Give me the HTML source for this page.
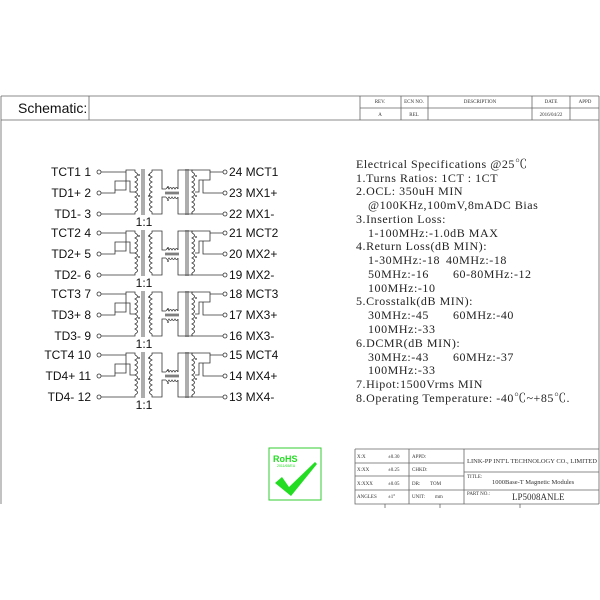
<!DOCTYPE html>
<html><head><meta charset="utf-8"><style>
body{margin:0;background:#fff;width:600px;height:600px;overflow:hidden}
svg{display:block}
.l{font-family:"Liberation Sans",sans-serif;font-size:12px;fill:#111}
.s{font-family:"Liberation Serif","Noto Serif CJK SC",serif;font-size:12px;fill:#222;letter-spacing:0.55px}
.t{font-family:"Liberation Serif",serif;font-size:5px;fill:#333}
</style></head><body>
<svg width="600" height="600" viewBox="0 0 600 600" xmlns="http://www.w3.org/2000/svg">
<defs>
<g id="ch" fill="none" stroke="#333" stroke-width="0.8">
 <circle cx="99" cy="0" r="2"/><circle cx="99" cy="21" r="2"/><circle cx="99" cy="42" r="2"/>
 <circle cx="225" cy="0" r="2"/><circle cx="225" cy="21" r="2"/><circle cx="225" cy="42" r="2"/>
 <path d="M101,0H126V18H115M101,21H115V9H130V20H135M101,42H135V40M126,0V-2H135V0"/>
 <path d="M135,0q5,2.5 0,5q5,2.5 0,5q5,2.5 0,5q5,2.5 0,5q5,2.5 0,5q5,2.5 0,5q5,2.5 0,5q5,2.5 0,5"/>
 <path d="M142,-3V43M144,-3V43"/>
 <path d="M152,0q-5,2.5 0,5q-5,2.5 0,5q-5,2.5 0,5q-5,2.5 0,5q-5,2.5 0,5q-5,2.5 0,5q-5,2.5 0,5q-5,2.5 0,5"/>
 <path d="M152,0V-2H162V17H166M152,40V42H162V25H166"/>
 <path d="M166,17q1.5,-3 3,0q1.5,-3 3,0q1.5,-3 3,0q1.5,-3 3,0M166,25q1.5,3 3,0q1.5,3 3,0q1.5,3 3,0q1.5,3 3,0M165,20.2H179M165,21.8H179"/>
 <path d="M178,17V-2H192V0M178,25V42H192V40"/>
 <path d="M186,-3V43M188,-3V43"/>
 <path d="M192,0q5,2.5 0,5q5,2.5 0,5q5,2.5 0,5q5,2.5 0,5q5,2.5 0,5q5,2.5 0,5q5,2.5 0,5q5,2.5 0,5"/>
 <path d="M192,0V-2H210V0H223M210,0V8H199V20H195M192,40V42H223M199,8H203V21H223"/>
</g>
<g id="dots" fill="#333"><circle cx="139" cy="3" r="0.9"/><circle cx="139" cy="24" r="0.9"/><circle cx="149" cy="3" r="0.9"/><circle cx="149" cy="24" r="0.9"/><circle cx="168" cy="15" r="0.9"/><circle cx="168" cy="28" r="0.9"/><circle cx="196" cy="4" r="0.9"/><circle cx="196" cy="24" r="0.9"/></g>
</defs>
<g fill="none" stroke="#666" stroke-width="0.8">
<path d="M1,96H599M1,96V504M599,96V504M1,120H599M89,96V120"/>
<path d="M360,96V120M401,96V120M428,96V120M532,96V120M570,96V120M360,108H599"/>
<path d="M355,449H599M355,449V504H599M355,463H464M355,476H464M355,490H599M464,472H599M409,449V504M464,449V504M385,504V508M440,504V508M520,504V508"/>
</g>
<text x="18" y="113" font-family="Liberation Sans,sans-serif" font-size="14" fill="#111">Schematic:</text>
<g class="t" text-anchor="middle"><text x="380" y="103">REV.</text><text x="414" y="103">ECN NO.</text><text x="480" y="103">DESCRIPTION</text><text x="551" y="103">DATE</text><text x="585" y="103">APPD</text>
<text x="380" y="116">A</text><text x="414" y="116">REL</text><text x="551" y="116">2016/04/22</text></g>
<g class="t"><text x="357" y="458">X:X</text><text x="388" y="458">±0.30</text><text x="412" y="458">APPD:</text>
<text x="357" y="471">X:XX</text><text x="388" y="471">±0.25</text><text x="412" y="471">CHKD:</text>
<text x="357" y="485">X:XXX</text><text x="388" y="485">±0.05</text><text x="412" y="485">DR:</text><text x="430" y="485">TOM</text>
<text x="357" y="498">ANGLES</text><text x="388" y="498">±1°</text><text x="412" y="498">UNIT:</text><text x="435" y="498">mm</text>
<text x="467" y="478">TITLE:</text><text x="467" y="495">PART NO.:</text></g>
<text x="467" y="463" font-family="Liberation Serif,serif" font-size="6.5" fill="#333">LINK-PP INT'L TECHNOLOGY CO., LIMITED</text>
<text x="492" y="484" font-family="Liberation Serif,serif" font-size="6.5" fill="#333">1000Base-T Magnetic Modules</text>
<text x="512" y="500" font-family="Liberation Serif,serif" font-size="9" fill="#333">LP5008ANLE</text>
<rect x="269" y="448" width="52" height="52" fill="#fff" stroke="#3c3" stroke-width="1"/>
<text x="273" y="462" font-family="Liberation Sans,sans-serif" font-weight="bold" font-size="9" fill="#2d2">RoHS</text>
<text x="277" y="467" font-family="Liberation Sans,sans-serif" font-size="3.5" fill="#2d2">2011/65/EU</text>
<path d="M275,483L282,477L289,487L315,462L317,464L291,496Z" fill="#2d2"/>
<use href="#ch" transform="translate(0,172)"/><use href="#dots" transform="translate(0,172)"/>
<use href="#ch" transform="translate(0,233)"/><use href="#dots" transform="translate(0,233)"/>
<use href="#ch" transform="translate(0,294)"/><use href="#dots" transform="translate(0,294)"/>
<use href="#ch" transform="translate(0,355)"/><use href="#dots" transform="translate(0,355)"/>
<g class="l" text-anchor="end">
<text x="91" y="176">TCT1  1</text><text x="91" y="197">TD1+  2</text><text x="91" y="218">TD1-  3</text>
<text x="91" y="237">TCT2  4</text><text x="91" y="258">TD2+  5</text><text x="91" y="279">TD2-  6</text>
<text x="91" y="298">TCT3  7</text><text x="91" y="319">TD3+  8</text><text x="91" y="340">TD3-  9</text>
<text x="91" y="359">TCT4 10</text><text x="91" y="380">TD4+ 11</text><text x="91" y="401">TD4- 12</text>
</g>
<g class="l">
<text x="229" y="176">24 MCT1</text><text x="229" y="197">23 MX1+</text><text x="229" y="218">22 MX1-</text>
<text x="229" y="237">21 MCT2</text><text x="229" y="258">20 MX2+</text><text x="229" y="279">19 MX2-</text>
<text x="229" y="298">18 MCT3</text><text x="229" y="319">17 MX3+</text><text x="229" y="340">16 MX3-</text>
<text x="229" y="359">15 MCT4</text><text x="229" y="380">14 MX4+</text><text x="229" y="401">13 MX4-</text>
</g>
<g class="l" text-anchor="middle"><text x="144" y="226">1:1</text><text x="144" y="287">1:1</text><text x="144" y="348">1:1</text><text x="144" y="409">1:1</text></g>
<g class="s">
<text x="356" y="168">Electrical Specifications @25℃</text>
<text x="356" y="182">1.Turns Ratios: 1CT : 1CT</text>
<text x="356" y="195">2.OCL: 350uH MIN</text>
<text x="368" y="209">@100KHz,100mV,8mADC Bias</text>
<text x="356" y="223">3.Insertion Loss:</text>
<text x="368" y="237">1-100MHz:-1.0dB MAX</text>
<text x="356" y="250">4.Return Loss(dB MIN):</text>
<text x="368" y="264">1-30MHz:-18</text><text x="446" y="264">40MHz:-18</text>
<text x="368" y="278">50MHz:-16</text><text x="453" y="278">60-80MHz:-12</text>
<text x="368" y="292">100MHz:-10</text>
<text x="356" y="305">5.Crosstalk(dB MIN):</text>
<text x="368" y="319">30MHz:-45</text><text x="453" y="319">60MHz:-40</text>
<text x="368" y="333">100MHz:-33</text>
<text x="356" y="347">6.DCMR(dB MIN):</text>
<text x="368" y="361">30MHz:-43</text><text x="453" y="361">60MHz:-37</text>
<text x="368" y="374">100MHz:-33</text>
<text x="356" y="388">7.Hipot:1500Vrms MIN</text>
<text x="356" y="402">8.Operating Temperature: -40℃~+85℃.</text>
</g>
</svg>
</body></html>
